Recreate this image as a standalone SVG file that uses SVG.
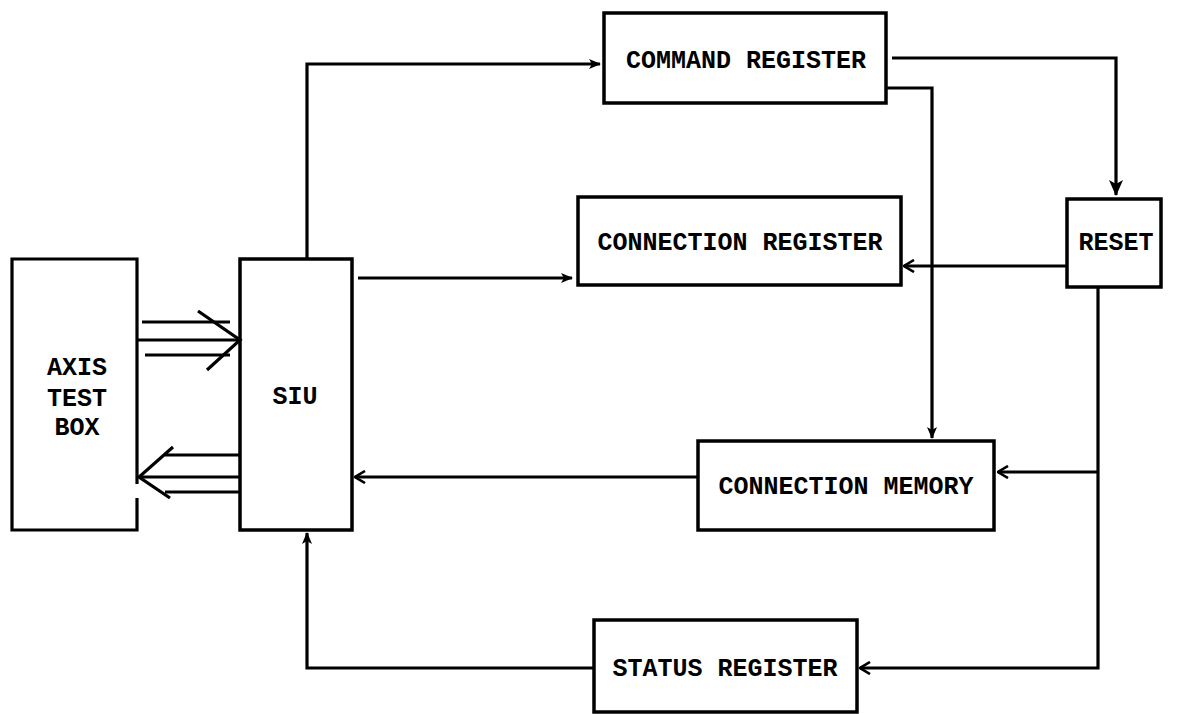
<svg xmlns="http://www.w3.org/2000/svg" width="1181" height="714" viewBox="0 0 1181 714">
<style>
.box{fill:#fff;stroke:#000;stroke-width:3.5}
.ln{fill:none;stroke:#000;stroke-width:3.2}
.t{font-family:"Liberation Mono","DejaVu Sans Mono",monospace;font-weight:bold;font-size:25px;fill:#000;text-anchor:middle}
</style>
<defs>
<marker id="fa" viewBox="0 0 12 10" refX="11" refY="5" markerWidth="12" markerHeight="10" markerUnits="userSpaceOnUse" orient="auto">
<path d="M0,0 L12,5 L0,10 L3,5 Z" fill="#000"/>
</marker>
<marker id="fb" viewBox="0 0 16 14" refX="15" refY="7" markerWidth="16" markerHeight="14" markerUnits="userSpaceOnUse" orient="auto">
<path d="M0,0 L16,7 L0,14 L4,7 Z" fill="#000"/>
</marker>
<marker id="oa" viewBox="0 0 12 14" refX="11" refY="7" markerWidth="12" markerHeight="14" markerUnits="userSpaceOnUse" orient="auto">
<path d="M1,1 L11,7 L1,13" fill="none" stroke="#000" stroke-width="2.6"/>
</marker>
</defs>
<g id="axis">
<path class="ln" d="M137,484 V259 H12 V530 H137 V498" stroke-width="3.5"/>
<text class="t" x="77" y="375">AXIS</text>
<text class="t" x="77" y="406">TEST</text>
<text class="t" x="77" y="435">BOX</text>
</g>
<g id="siu">
<rect class="box" x="240" y="259" width="112" height="271"/>
<text class="t" x="295" y="404">SIU</text>
</g>
<g id="command-register">
<rect class="box" x="604" y="13" width="282" height="90"/>
<text class="t" x="746" y="68">COMMAND REGISTER</text>
</g>
<g id="connection-register">
<rect class="box" x="578" y="197" width="323" height="88"/>
<text class="t" x="740" y="250">CONNECTION REGISTER</text>
</g>
<g id="reset">
<rect class="box" x="1067" y="199" width="94" height="88"/>
<text class="t" x="1116" y="250">RESET</text>
</g>
<g id="connection-memory">
<rect class="box" x="698" y="441" width="296" height="89"/>
<text class="t" x="846" y="494">CONNECTION MEMORY</text>
</g>
<g id="status-register">
<rect class="box" x="594" y="620" width="263" height="92"/>
<text class="t" x="725" y="676">STATUS REGISTER</text>
</g>
<g id="connectors">
<path class="ln" d="M142,322 H230 M137,340 H240 M145,355 H230"/>
<path class="ln" d="M198,311 L240,340 L207,370"/>
<path class="ln" d="M240,455 H165 M240,477 H139 M240,492 H165"/>
<path class="ln" d="M173,447 L139,477 L170,498"/>
<path class="ln" d="M307,259 V64 H600" marker-end="url(#fa)"/>
<path class="ln" d="M358,278 H572" marker-end="url(#fa)"/>
<path class="ln" d="M892,58 H1116 V195" marker-end="url(#fb)"/>
<path class="ln" d="M887,88 H932 V438" marker-end="url(#fa)"/>
<path class="ln" d="M1067,266 H904" marker-end="url(#oa)"/>
<path class="ln" d="M1098,287 V668 H860" marker-end="url(#oa)"/>
<path class="ln" d="M1098,472 H998" marker-end="url(#oa)"/>
<path class="ln" d="M698,477 H355" marker-end="url(#oa)"/>
<path class="ln" d="M594,668 H307 V533" marker-end="url(#fa)"/>
</g>
</svg>
